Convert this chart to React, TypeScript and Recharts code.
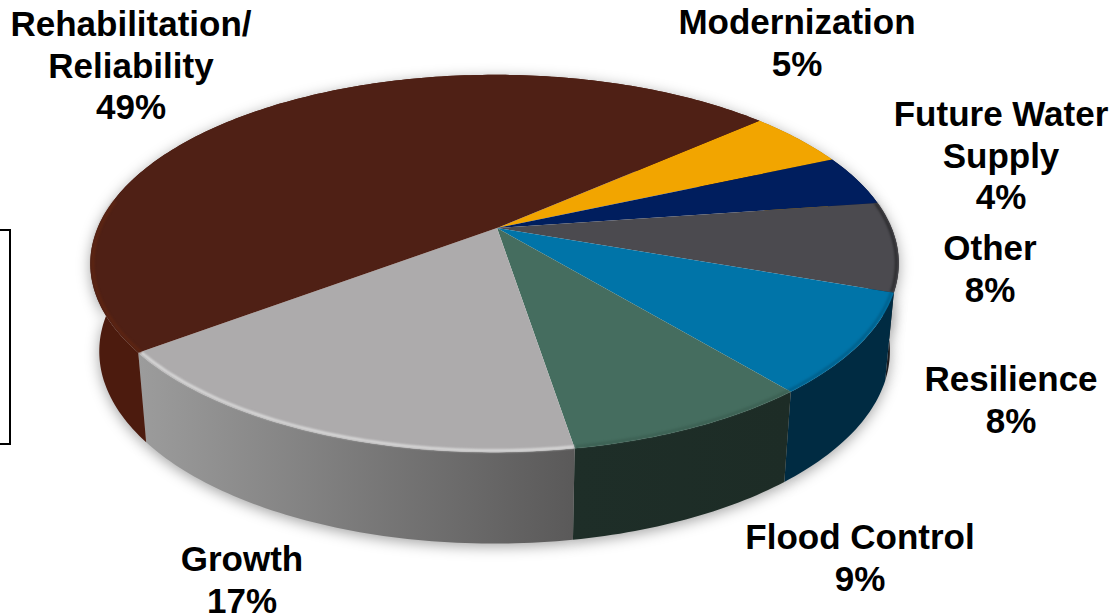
import { PieChart, Pie } from 'recharts';

const names = ['Modernization', 'Future Water Supply', 'Other', 'Resilience', 'Flood Control', 'Growth', 'Rehabilitation/Reliability'];
const shares = [4.9, 4.4, 7.7, 8.6, 8.4, 17.2, 48.7];
const percentLabels = ['5%', '4%', '8%', '8%', '9%', '17%', '49%'];
const labelLines = [
  ['Modernization'],
  ['Future Water', 'Supply'],
  ['Other'],
  ['Resilience'],
  ['Flood Control'],
  ['Growth'],
  ['Rehabilitation/', 'Reliability'],
];

const topColors = ['#f2a500', '#001e5e', '#4b4a4f', '#0074a8', '#456d5f', '#adabac', '#4f2015'];
const wallLeft = ['#a87200', '#00123a', '#1c1c1f', '#002b42', '#1e2e28', '#9c9c9c', '#4c1b0e'];
const wallRight = ['#a87200', '#00123a', '#1c1c1f', '#002b42', '#1d2c26', '#5a5959', '#4c1b0e'];
const rimColors = ['none', 'none', '#2a2a2d', '#005f8a', '#3c6053', '#dedede', '#5e2512'];

// label centre x and first baseline y
const labelX = [797, 1001, 990, 1011, 860, 242, 131];
const labelY = [34, 126, 260, 391, 549, 571, 36];
const LINE_GAP = 41.5;

const CX = 497;
const CY = 228;
const RADIUS = 397;
const SQUASH = 182 / 397;
const PERSPECTIVE = 0.188;
const LEAN = -0.006;
const WALL_SCALE_X = 0.978;
const WALL_SCALE_Y = 1.02;
const WALL_Y = 315;

const chartData = names.map((name, i) => ({ name, share: shares[i] }));

const project = (angle: number, scale = 1) => {
  const rad = (angle * Math.PI) / 180;
  const u = Math.cos(rad) * scale;
  const v = -Math.sin(rad) * scale;
  const d = 1 - PERSPECTIVE * v - LEAN * u;
  return { dx: (RADIUS * u) / d, dy: (RADIUS * SQUASH * v) / d, v };
};

const sampleAngles = (start: number, end: number) => {
  const steps = Math.max(2, Math.ceil(Math.abs(end - start)));
  const out: number[] = [];
  for (let i = 0; i <= steps; i++) out.push(start + ((end - start) * i) / steps);
  return out;
};

const wallPath = (start: number, end: number) => {
  const angles = sampleAngles(start, end);
  const top = angles.map((a) => {
    const p = project(a);
    return `${CX + p.dx},${CY + p.dy}`;
  });
  const bottom = angles
    .slice()
    .reverse()
    .map((a) => {
      const p = project(a);
      return `${CX + p.dx * WALL_SCALE_X},${WALL_Y + p.dy * WALL_SCALE_Y}`;
    });
  return `M${top.join('L')}L${bottom.join('L')}Z`;
};

const ShadowShape = (props: any) => (
  <path
    d={wallPath(props.startAngle, props.endAngle)}
    fill="#000"
    fillOpacity={0.36}
    style={{ filter: 'blur(7px)' }}
    transform="translate(0 3)"
  />
);

const WallShape = (props: any) => {
  const id = `wall-${props.index}`;
  return (
    <g>
      <defs>
        <linearGradient id={id} x1="0" y1="0" x2="1" y2="0">
          <stop offset="0%" stopColor={wallLeft[props.index]} />
          <stop offset="100%" stopColor={wallRight[props.index]} />
        </linearGradient>
      </defs>
      <path d={wallPath(props.startAngle, props.endAngle)} fill={`url(#${id})`} />
    </g>
  );
};

const TopShape = (props: any) => {
  const angles = sampleAngles(props.startAngle, props.endAngle);
  const edge = angles.map((a) => {
    const p = project(a);
    return `${CX + p.dx},${CY + p.dy}`;
  });
  // soft bevel along the front edge only
  const rim = angles
    .map((a) => project(a, 0.994))
    .filter((p) => p.v > -0.15)
    .map((p) => `${CX + p.dx},${CY + p.dy}`);
  const rimColor = rimColors[props.index];
  return (
    <g>
      <path d={`M${CX},${CY}L${edge.join('L')}Z`} fill={topColors[props.index]} />
      {rimColor !== 'none' && rim.length > 1 && (
        <path d={`M${rim.join('L')}`} fill="none" stroke={rimColor} strokeWidth={2.5} style={{ filter: 'blur(1.2px)' }} />
      )}
    </g>
  );
};

const renderLabel = (props: any) => {
  const i = props.index;
  const lines = [...labelLines[i], percentLabels[i]];
  return (
    <text
      key={names[i]}
      textAnchor="middle"
      fill="#000"
      fontFamily="Liberation Sans"
      fontWeight="bold"
      fontSize={35}
    >
      {lines.map((line, n) => (
        <tspan key={n} x={labelX[i]} y={labelY[i] + n * LINE_GAP}>
          {line}
        </tspan>
      ))}
    </text>
  );
};

const pieProps = {
  data: chartData,
  dataKey: 'share',
  nameKey: 'name',
  cx: CX,
  cy: CY,
  outerRadius: RADIUS,
  startAngle: 41.7,
  endAngle: -318.3,
  stroke: 'none',
  isAnimationActive: false,
};

export default function App() {
  return (
    <div style={{ position: 'absolute', left: 0, top: 0, width: 1114, height: 614, background: '#fff', overflow: 'hidden' }}>
      <div
        style={{
          position: 'absolute',
          left: -4,
          top: 229,
          width: 13,
          height: 212,
          borderTop: '2px solid #000',
          borderRight: '2px solid #000',
          borderBottom: '2px solid #000',
        }}
      />
      <div style={{ position: 'absolute', left: 0, top: 0 }}>
        <PieChart width={1114} height={614} margin={{ top: 0, right: 0, bottom: 0, left: 0 }}>
          <Pie {...pieProps} shape={ShadowShape} />
          <Pie {...pieProps} shape={WallShape} />
          <Pie {...pieProps} shape={TopShape} label={renderLabel} labelLine={false} />
        </PieChart>
      </div>
    </div>
  );
}
